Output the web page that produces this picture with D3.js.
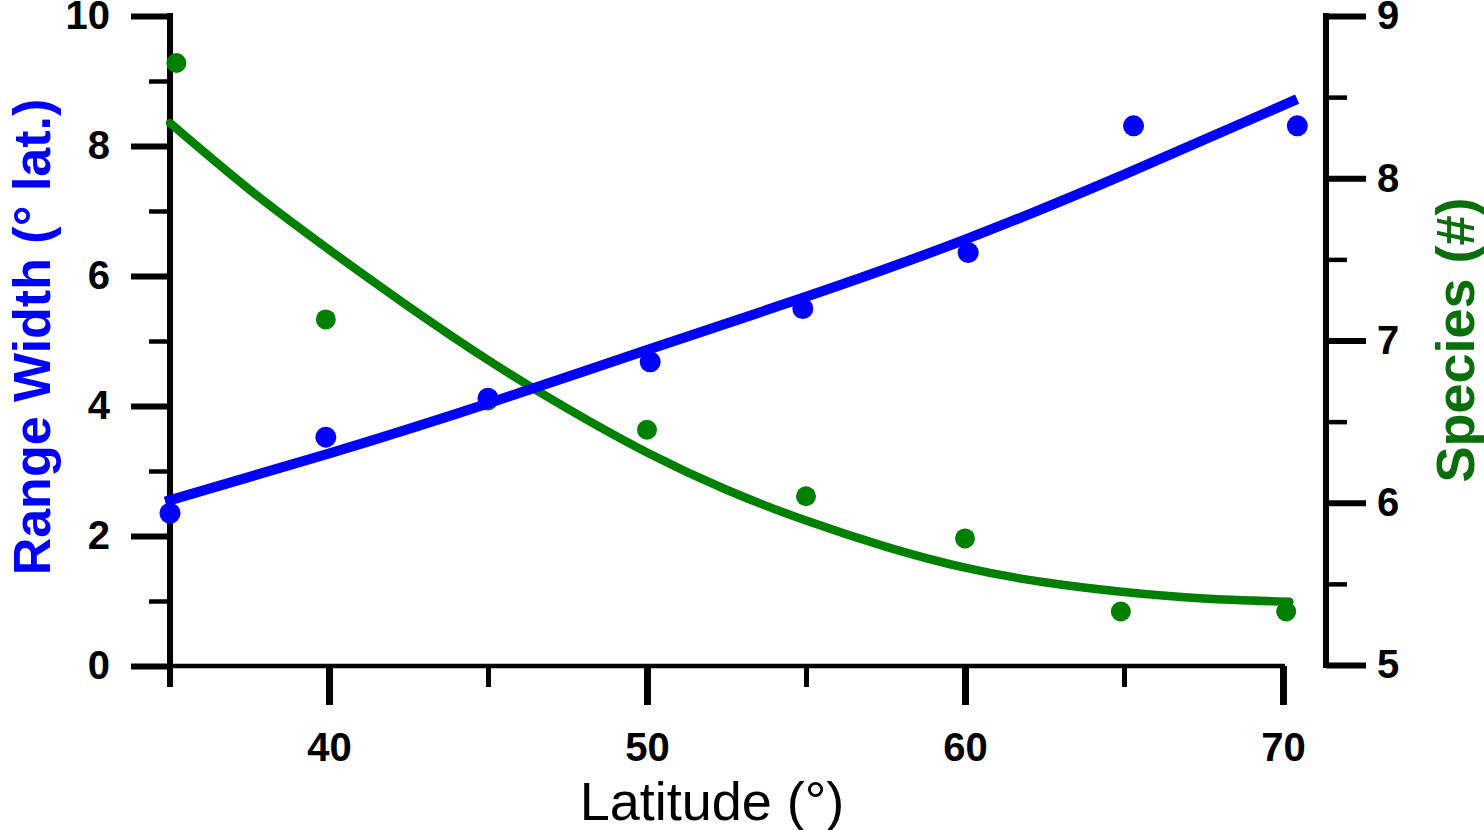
<!DOCTYPE html>
<html>
<head>
<meta charset="utf-8">
<script src="https://cdn.jsdelivr.net/npm/d3@7"></script>
<style>
  body { margin: 0; background: #fff; }
  svg { display: block; }
  text { font-family: "Liberation Sans", Arial, sans-serif; }
</style>
</head>
<body>
<div id="chart"></div>
<script>

// observed values
var latitudes = [35, 39.9, 45, 50.1, 54.9, 60.1, 65.3, 70.45];
var rangeWidth = [2.35, 3.52, 4.12, 4.68, 5.5, 6.36, 8.31, 8.31];

var speciesLat = [35.2, 39.9, 45, 50, 55, 60, 64.9, 70.1];
var species = [8.71, 7.13, 6.63, 6.45, 6.04, 5.78, 5.33, 5.33];

// fitted curves
var rangeFitLat = [35, 40, 45, 50, 55, 60, 65, 70.3];
var rangeFit = [2.55, 3.27, 4.04, 4.86, 5.68, 6.56, 7.56, 8.69];

var speciesFitLat = [35, 37.5, 40, 42.5, 45, 47.5, 50, 52.5, 55, 57.5, 60, 62.5, 65, 67.5, 70.2];
var speciesFit = [8.34, 7.93, 7.56, 7.21, 6.88, 6.58, 6.31, 6.08, 5.89, 5.73, 5.6, 5.51, 5.45, 5.41, 5.39];

var xMajor = [40, 50, 60, 70];
var xMinor = [35, 45, 55, 65];
var leftMajor = [0, 2, 4, 6, 8, 10];
var leftMinor = [1, 3, 5, 7, 9];
var rightMajor = [5, 6, 7, 8, 9];
var rightMinor = [5.5, 6.5, 7.5, 8.5];

var blue = "#0000ff";
var green = "#008000";

var width = 1484, height = 830;

var svg = d3.select("#chart")
	.append("svg")
	.attr("width", width)
	.attr("height", height);

var x = d3.scaleLinear().domain([35, 70]).range([170, 1283]);
var yL = d3.scaleLinear().domain([0, 10]).range([666, 16]);
var yR = d3.scaleLinear().domain([5, 9]).range([665, 16]);

function styleAxis(g, w) {
	g.select(".domain").remove();
	g.selectAll(".tick line").attr("stroke", "#000").attr("stroke-width", w);
	g.selectAll("text")
		.attr("fill", "#000")
		.style("font-size", "40px")
		.style("font-weight", "bold");
}

// x axis
var gx = svg.append("g").attr("transform", "translate(0,666)");
gx.append("g").call(d3.axisBottom(x).tickValues(xMinor).tickSize(21).tickFormat(""))
	.call(styleAxis, 5);
gx.append("g").call(d3.axisBottom(x).tickValues(xMajor).tickSize(39).tickPadding(28).tickFormat(d3.format("d")))
	.call(styleAxis, 7);
gx.append("line")
	.attr("x1", x(35)).attr("x2", x(70) + 2)
	.attr("stroke", "#000").attr("stroke-width", 4.5);

// left axis
var gl = svg.append("g").attr("transform", "translate(170,0)");
gl.append("g").call(d3.axisLeft(yL).tickValues(leftMinor).tickSize(21).tickFormat(""))
	.call(styleAxis, 4.5);
gl.append("g").call(d3.axisLeft(yL).tickValues(leftMajor).tickSize(39).tickPadding(21).tickFormat(d3.format("d")))
	.call(styleAxis, 6);
gl.append("line")
	.attr("y1", yL(10) - 3).attr("y2", 687)
	.attr("stroke", "#000").attr("stroke-width", 6);

// right axis
var gr = svg.append("g").attr("transform", "translate(1326,0)");
gr.append("g").call(d3.axisRight(yR).tickValues(rightMinor).tickSize(21).tickFormat(""))
	.call(styleAxis, 4.5);
gr.append("g").call(d3.axisRight(yR).tickValues(rightMajor).tickSize(40).tickPadding(11).tickFormat(d3.format("d")))
	.call(styleAxis, 6);
gr.append("line")
	.attr("y1", yR(9) - 3).attr("y2", yR(5) + 3)
	.attr("stroke", "#000").attr("stroke-width", 6);

// species: fitted curve and points
var speciesLine = d3.line()
	.x(function(d) { return x(d[0]); })
	.y(function(d) { return yR(d[1]); })
	.curve(d3.curveNatural);

svg.append("path")
	.datum(d3.zip(speciesFitLat, speciesFit))
	.attr("d", speciesLine)
	.attr("fill", "none")
	.attr("stroke", green)
	.attr("stroke-width", 8.5)
	.attr("stroke-linecap", "round");

svg.append("g")
	.selectAll("circle")
	.data(d3.zip(speciesLat, species))
	.enter().append("circle")
	.attr("cx", function(d) { return x(d[0]); })
	.attr("cy", function(d) { return yR(d[1]); })
	.attr("r", 10)
	.attr("fill", green);

// range width: fitted curve and points
var rangeLine = d3.line()
	.x(function(d) { return x(d[0]); })
	.y(function(d) { return yL(d[1]); })
	.curve(d3.curveNatural);

svg.append("path")
	.datum(d3.zip(rangeFitLat, rangeFit))
	.attr("d", rangeLine)
	.attr("fill", "none")
	.attr("stroke", blue)
	.attr("stroke-width", 10)
	.attr("stroke-linecap", "square");

svg.append("g")
	.selectAll("circle")
	.data(d3.zip(latitudes, rangeWidth))
	.enter().append("circle")
	.attr("cx", function(d) { return x(d[0]); })
	.attr("cy", function(d) { return yL(d[1]); })
	.attr("r", 10.5)
	.attr("fill", blue);

// titles
svg.append("text")
	.attr("x", 712)
	.attr("y", 820)
	.attr("text-anchor", "middle")
	.style("font-size", "54px")
	.attr("fill", "#000")
	.text("Latitude (°)");

svg.append("text")
	.attr("transform", "translate(50,337) rotate(-90)")
	.attr("text-anchor", "middle")
	.style("font-size", "52px")
	.style("font-weight", "bold")
	.attr("fill", blue)
	.text("Range Width (° lat.)");

svg.append("text")
	.attr("transform", "translate(1474,340) rotate(-90)")
	.attr("text-anchor", "middle")
	.style("font-size", "54px")
	.style("font-weight", "bold")
	.attr("fill", "#0a6e0a")
	.text("Species (#)");

</script>
</body>
</html>
